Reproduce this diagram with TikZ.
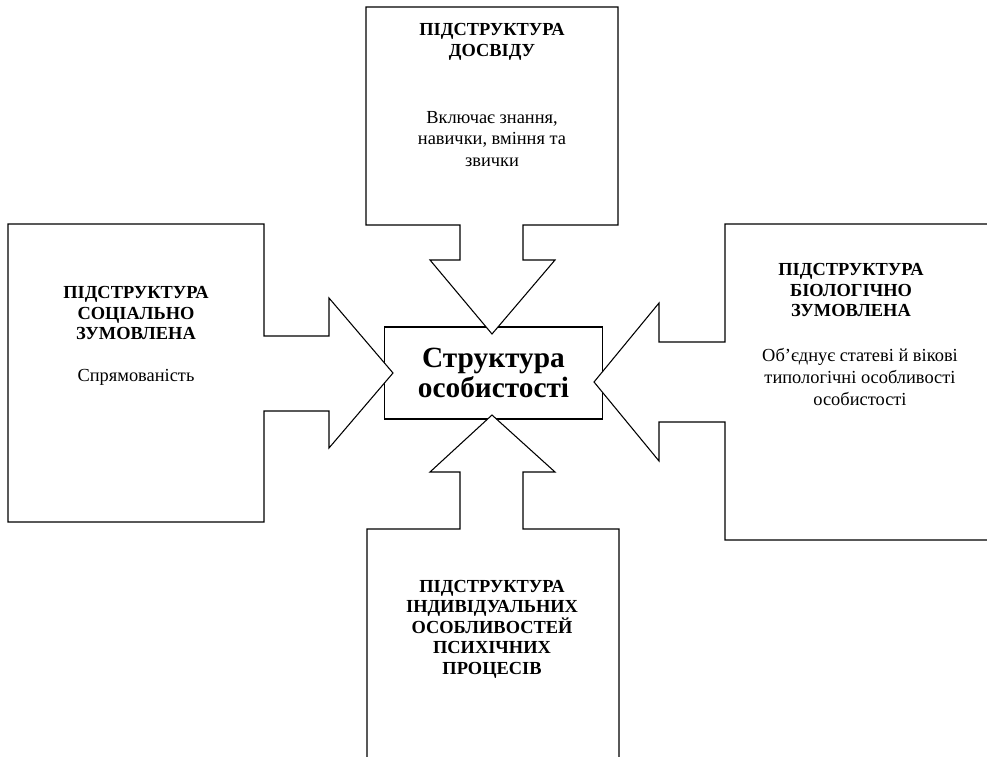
\documentclass[tikz,border=0pt]{standalone}
\usepackage{fontspec}
\setmainfont{Liberation Serif}
\usetikzlibrary{positioning}

\begin{document}
\begin{tikzpicture}[
    x = 0.75pt, y = -0.75pt,
    part/.style = {draw, fill=white, line width=0.8pt, line join=miter},
    head/.style = {align=center, font=\fontsize{13.8}{15.4}\selectfont\bfseries},
    body/.style = {align=center, font=\fontsize{13.8}{16.2}\selectfont},
    centre/.style = {draw, fill=white, line width=0.8pt, minimum width=163pt,
                     minimum height=69pt, align=center,
                     font=\fontsize{22}{22.5}\selectfont\bfseries},
  ]

    \useasboundingbox (0,0) rectangle (987,756);
    \clip (0,0) rectangle (987,756);

    % centre
    \node[centre] (core) at (493.5,373) {Структура\\особистості};

    % four parts with their arrows
    \draw[part] (366,7) -- (618,7) -- (618,225) -- (523,225) -- (523,260)
        -- (555,260) -- (492,334) -- (430,260) -- (460,260) -- (460,225)
        -- (366,225) -- cycle;
    \draw[part] (8,224) -- (264,224) -- (264,336) -- (329,336) -- (329,298)
        -- (393,373) -- (329,448) -- (329,411) -- (264,411) -- (264,522)
        -- (8,522) -- cycle;
    \draw[part] (1000,224) -- (725,224) -- (725,342) -- (659,342) -- (659,303)
        -- (594,382) -- (659,461) -- (659,422) -- (725,422) -- (725,540)
        -- (1000,540) -- cycle;
    \draw[part] (367,800) -- (367,529) -- (460,529) -- (460,472) -- (430,472)
        -- (492,415) -- (555,472) -- (523,472) -- (523,529) -- (619,529)
        -- (619,800) -- cycle;

    % texts
    \node[head] (expH) at (492,42) {ПІДСТРУКТУРА\\ДОСВІДУ};
    \node[body] (expB) at (492,139) {Включає знання,\\навички, вміння та\\звички};

    \node[head] (socH) at (136,313) {ПІДСТРУКТУРА\\СОЦІАЛЬНО\\ЗУМОВЛЕНА};
    \node[body] (socB) at (136,377) {Спрямованість};

    \node[head] (bioH) at (851,290) {ПІДСТРУКТУРА\\БІОЛОГІЧНО\\ЗУМОВЛЕНА};
    \node[body] (bioB) at (860,377) {Об’єднує статеві й вікові\\типологічні особливості\\особистості};

    \node[head] (indH) at (492,629) {ПІДСТРУКТУРА\\ІНДИВІДУАЛЬНИХ\\ОСОБЛИВОСТЕЙ\\ПСИХІЧНИХ\\ПРОЦЕСІВ};
\end{tikzpicture}
\end{document}
